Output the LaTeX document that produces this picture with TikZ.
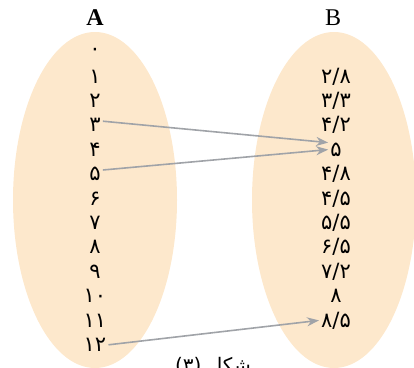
\documentclass[tikz,border=0pt]{standalone}
\usepackage{fontspec}
\setmainfont{Liberation Serif}
\newfontfamily\digitfont{DejaVu Sans}
\newfontfamily\arabicfont[Script=Arabic]{DejaVu Sans}
\TeXXeTstate=1
\usepackage{tikz}
\usetikzlibrary{positioning,arrows.meta}
\definecolor{setfill}{RGB}{253,232,204}
\definecolor{mapgray}{RGB}{160,163,168}

\begin{document}
\begin{tikzpicture}[x=1pt, y=-1pt, >={Stealth[length=12pt,width=9pt]},
    setname/.style={font=\fontsize{24}{26}\selectfont},
    elem/.style={font=\digitfont\fontsize{21}{23}\selectfont, inner sep=2pt},
    maparrow/.style={->, draw=mapgray, line width=1.6pt}]
    \useasboundingbox (0,0) rectangle (414,367);
    \clip (0,0) rectangle (414,367);

    % Sets
    \fill[setfill] (95,200) ellipse [x radius=82, y radius=168];
    \fill[setfill] (334,200) ellipse [x radius=82, y radius=168];
    \node [setname] (setA) at (95,18) {\textbf{A}};
    \node [setname] (setB) at (333,18) {B};

    % Elements of A
    \foreach \d [count=\i from 0] in {۰,۱,۲,۳,۴,۵,۶,۷,۸,۹,۱۰,۱۱,۱۲}
        \node [elem] (a\i) at (95,52+24.4*\i) {\d};

    % Elements of B
    \foreach \d [count=\i] in {۲/۸,۳/۳,۴/۲,۵,۴/۸,۴/۵,۵/۵,۶/۵,۷/۲,۸,۸/۵}
        \node [elem] (b\i) at (336,52+24.4*\i) {\d};

    % Mapping
    \draw [maparrow] ([yshift=4pt]a3.east) -- ([yshift=7pt]b4.west);
    \draw [maparrow] ([yshift=4pt]a5.east) -- (b4.west);
    \draw [maparrow] (a12.east) -- (b11.west);

    \node [font=\arabicfont\fontsize{20}{22}\selectfont, anchor=base] (caption) at (213,372) {\beginR شکل (۳)\endR};
\end{tikzpicture}
\end{document}
